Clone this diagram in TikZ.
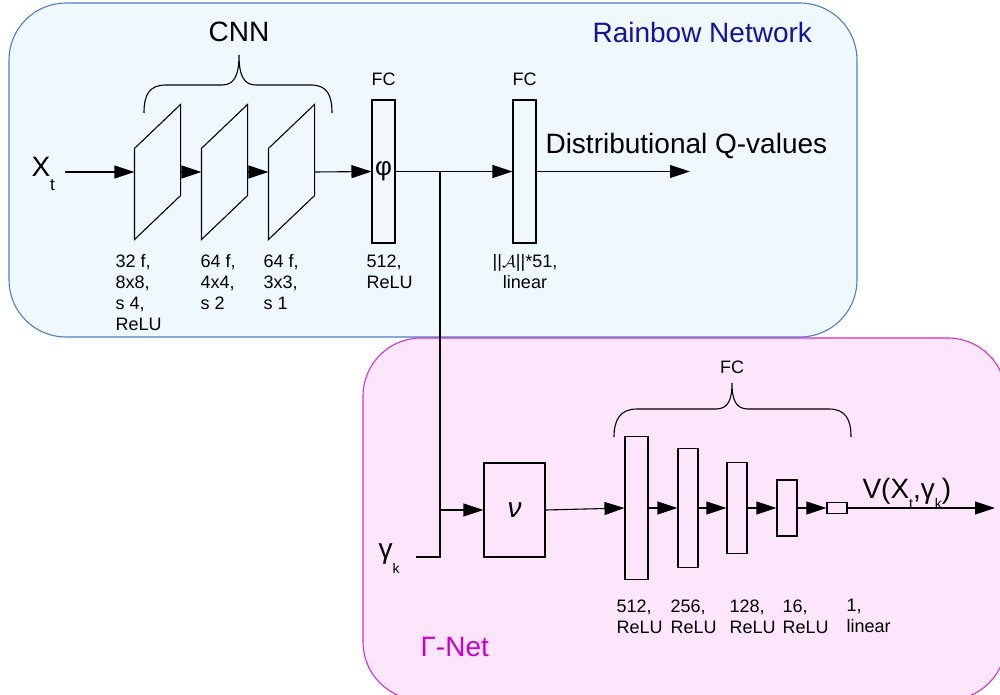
\documentclass[tikz,border=0pt]{standalone}
\usepackage{fontspec}
\setmainfont{Liberation Sans}
\usetikzlibrary{arrows.meta,calc}
\definecolor{bluefill}{HTML}{EEF8FD}
\definecolor{blueline}{HTML}{4F7FBF}
\definecolor{pinkfill}{HTML}{FDE6FB}
\definecolor{pinkline}{HTML}{CC33CC}
\definecolor{rbtext}{HTML}{14149A}
\definecolor{gntext}{HTML}{CC00CC}
\newcommand{\lowsub}[3]{\raisebox{-#1pt}{\fontsize{#2}{#2}\selectfont #3}}
\begin{document}
\begin{tikzpicture}[x=1pt,y=-1pt,line width=1.1pt,
  >={Triangle[length=20pt,width=13pt]},
  lbl/.style={inner sep=0pt,font=\fontsize{18}{21}\selectfont,align=left},
  big/.style={inner sep=0pt,font=\fontsize{28}{32}\selectfont},
  cnnbox/.style={inner sep=0pt,minimum width=45pt,minimum height=134pt},
  layer/.style={draw,inner sep=0pt,fill=none}]
\useasboundingbox (0,0) rectangle (1000,695);
% backgrounds
\draw[blueline,fill=bluefill,rounded corners=57pt] (9,3) rectangle (857,337);
\draw[pinkline,fill=pinkfill,rounded corners=58pt] (363,338) rectangle (1006,700);
% titles
\node[big,anchor=base west,text=rbtext] (rbt) at (592,43) {Rainbow Network};
\node[big,anchor=base west,text=gntext] (gnt) at (420,656) {Γ-Net};
% CNN
\node[big,anchor=base] (cnn) at (239,42) {CNN};
\draw (144,113) .. controls (144,95) and (149,85) .. (166,85) -- (222,85)
  .. controls (234,85) and (239,76) .. (239,55)
  .. controls (239,76) and (244,85) .. (256,85) -- (311,85)
  .. controls (327,85) and (332,95) .. (332,113);
\node[cnnbox] (p1) at (157.5,172) {};
\node[cnnbox] (p2) at (224.5,172) {};
\node[cnnbox] (p3) at (291.5,172) {};
\foreach \p in {p1,p2,p3}
  \draw (\p.north east) -- ($(\p.south east)+(0,-44)$) -- (\p.south west)
    -- ($(\p.north west)+(0,44)$) -- cycle;
\node[big,anchor=base west] (xt) at (31,176) {X\lowsub{14}{17}{t}};
\coordinate (in) at (65,172);
\node[layer,minimum width=23pt,minimum height=143pt,font=\fontsize{26}{30}\selectfont] (fc1) at (383.5,171.5) {φ};
\node[layer,minimum width=23pt,minimum height=143pt] (fc2) at (524.5,171.5) {};
\node[lbl,anchor=base] (fc1t) at (383.5,86) {FC};
\node[lbl,anchor=base] (fc2t) at (524.5,86) {FC};
\draw[->] (in) -- (p1.west);
\draw[->] (p1.east) -- (p2.west);
\draw[->] (p2.east) -- (p3.west);
\draw[->] (p3.east) -- (fc1.west);
\coordinate (j) at (440,171.5);
\coordinate (ja) at (440,510);
\coordinate (gend) at (416,557);
\coordinate (qout) at (690,171.5);
\draw (fc1.east) -- (j);
\draw[->] (j) -- (fc2.west);
\draw[->] (fc2.east) -- (qout);
\draw (j) |- (gend);
\node[big,anchor=base west] (dq) at (545,154) {Distributional Q-values};
% layer labels top
\node[lbl,anchor=north west] (l1) at (115,254) {32 f,\\8x8,\\s 4,\\ReLU};
\node[lbl,anchor=north west] (l2) at (200,254) {64 f,\\4x4,\\s 2};
\node[lbl,anchor=north west] (l3) at (263,254) {64 f,\\3x3,\\s 1};
\node[lbl,anchor=north west] (l4) at (366,254) {512,\\ReLU};
\node[lbl,anchor=north,align=center] (l5) at (525,254) {||$\mathcal{A}$||*51,\\linear};
% Gamma-net
\node[big,anchor=base west] (gk) at (378,558) {γ\lowsub{15}{14}{k}};
\node[layer,minimum width=61pt,minimum height=94pt,font=\fontsize{28}{30}\selectfont\itshape] (nu) at (514.5,510) {ν};
\draw[->] (ja) -- (nu.west);
\node[layer,minimum width=23pt,minimum height=143pt] (g1) at (636.5,508) {};
\node[layer,minimum width=20pt,minimum height=119pt] (g2) at (688,508) {};
\node[layer,minimum width=20pt,minimum height=91pt] (g3) at (737,508) {};
\node[layer,minimum width=20pt,minimum height=56pt] (g4) at (787,508) {};
\node[layer,minimum width=20pt,minimum height=11pt] (g5) at (837,508) {};
\coordinate (vout) at (995,508);
\draw[->] (nu.east) -- (g1.west);
\draw[->] (g1.east) -- (g2.west);
\draw[->] (g2.east) -- (g3.west);
\draw[->] (g3.east) -- (g4.west);
\draw[->] (g4.east) -- (g5.west);
\draw[->] (g5.east) -- (vout);
\node[big,anchor=base west] (vx) at (862,498) {V(X\lowsub{10}{14}{t},γ\lowsub{10}{14}{k})};
\node[lbl,anchor=base] (fc3t) at (732,373) {FC};
\draw (614,437) .. controls (614,420) and (620,409) .. (637,409) -- (716,409)
  .. controls (728,409) and (732,400) .. (732,383)
  .. controls (732,400) and (736,409) .. (748,409) -- (829,409)
  .. controls (846,409) and (851,420) .. (851,437);
\node[lbl,anchor=north west] (b1) at (616,599) {512,\\ReLU};
\node[lbl,anchor=north west] (b2) at (670,599) {256,\\ReLU};
\node[lbl,anchor=north west] (b3) at (729,599) {128,\\ReLU};
\node[lbl,anchor=north west] (b4) at (782,599) {16,\\ReLU};
\node[lbl,anchor=north west] (b5) at (846,599) {1,\\linear};
\end{tikzpicture}
\end{document}
